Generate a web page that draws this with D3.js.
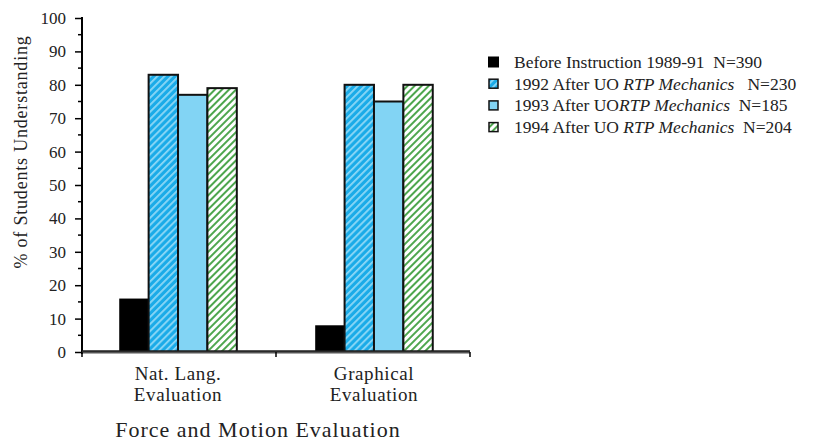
<!DOCTYPE html>
<html><head><meta charset="utf-8">
<script src="https://cdn.jsdelivr.net/npm/d3@7"></script>
<style>body{margin:0;background:#fff}svg{display:block}text{font-family:"Liberation Serif","Times New Roman",serif;fill:#222}</style>
</head><body><svg id="c" width="837" height="442"></svg>
<script>
const categories = ["Nat. Lang.|Evaluation", "Graphical|Evaluation"];
const seriesNames = ["Before Instruction 1989-91  N=390", "1992 After UO |RTP Mechanics|   N=230", "1993 After UO|RTP Mechanics|  N=185", "1994 After UO |RTP Mechanics|  N=204"];
const seriesKeys = ["before", "y1992", "y1993", "y1994"];
const before = [16, 8];
const y1992 = [83, 80];
const y1993 = [77, 75];
const y1994 = [79, 80];
const yTicks = [0,10,20,30,40,50,60,70,80,90,100];
const values = {before, y1992, y1993, y1994};

const svg = d3.select("#c");
const defs = svg.append("defs");
// blue hatch
const pb = defs.append("pattern").attr("id","hatchBlue").attr("patternUnits","userSpaceOnUse").attr("width",5).attr("height",5).attr("patternTransform","rotate(45)");
pb.append("rect").attr("width",5).attr("height",5).attr("fill","#1aabe8");
pb.append("rect").attr("x",0).attr("width",1.8).attr("height",5).attr("fill","#8ed8f6");
const pg = defs.append("pattern").attr("id","hatchGreen").attr("patternUnits","userSpaceOnUse").attr("width",5).attr("height",5).attr("patternTransform","rotate(45)");
pg.append("rect").attr("width",5).attr("height",5).attr("fill","#ffffff");
pg.append("rect").attr("x",0).attr("width",2).attr("height",5).attr("fill","#4ea64e");
const fills = {before:"#000", y1992:"url(#hatchBlue)", y1993:"#82d4f4", y1994:"url(#hatchGreen)"};

const x0 = d3.scaleBand().domain(categories).range([82,470]).paddingInner(0.4).paddingOuter(0.19);
const x1 = d3.scaleBand().domain(seriesKeys).range([0, x0.bandwidth()]);
const y = d3.scaleLinear().domain([0,100]).range([352,18]);

// y axis
const yAxis = d3.axisLeft(y).tickValues(yTicks).tickSize(7).tickFormat(d3.format("d"));
const gy = svg.append("g").attr("transform","translate(82,0)").call(yAxis);
gy.select(".domain").attr("stroke","#000").attr("stroke-width",2).attr("d","M0,17V354");
gy.selectAll(".tick line").attr("stroke","#000").attr("stroke-width",1.5);
gy.selectAll(".tick text").attr("x",-16).style("font-size","17px").style("font-family","Liberation Serif").attr("fill","#222");
// minor ticks
svg.append("g").selectAll("line").data(d3.range(5,100,10)).join("line")
  .attr("x1",78).attr("x2",82).attr("y1",d=>y(d)).attr("y2",d=>y(d)).attr("stroke","#000").attr("stroke-width",1.5);

// bars
const groups = svg.append("g").selectAll("g").data(categories).join("g")
  .attr("transform",d=>`translate(${x0(d)},0)`);
groups.selectAll("rect").data((d,i)=>seriesKeys.map(k=>({k, v:values[k][i]}))).join("rect")
  .attr("x",d=>x1(d.k)).attr("width",x1.bandwidth()).attr("y",d=>y(d.v)).attr("height",d=>y(0)-y(d.v))
  .attr("fill",d=>fills[d.k]).attr("stroke","#111").attr("stroke-width",d=>d.k==="before"?0:2);

// baseline (x axis)
svg.append("line").attr("x1",82).attr("x2",470).attr("y1",352).attr("y2",352).attr("stroke","#555").attr("stroke-width",3);
svg.append("line").attr("x1",82).attr("x2",470).attr("y1",351).attr("y2",351).attr("stroke","#000").attr("stroke-width",1.2);
svg.append("g").selectAll("line").data([82,276,470]).join("line")
  .attr("x1",d=>d).attr("x2",d=>d).attr("y1",352).attr("y2",357).attr("stroke","#000").attr("stroke-width",1.5);

// category labels
svg.append("g").selectAll("text").data(categories).join("text")
  .attr("x",d=>x0(d)+x0.bandwidth()/2).attr("y",380).attr("text-anchor","middle").style("font-size","19px").style("letter-spacing","0.6px")
  .each(function(d){
    const parts=d.split("|");
    d3.select(this).selectAll("tspan").data(parts).join("tspan").attr("x",x0(d)+x0.bandwidth()/2).attr("dy",(p,i)=>i?21:0).text(p=>p);
  });

svg.append("text").attr("x",258).attr("y",437).attr("text-anchor","middle").style("font-size","22px").style("letter-spacing","1px").text("Force and Motion Evaluation");
svg.append("text").attr("transform","translate(27,152) rotate(-90)").attr("text-anchor","middle").style("font-size","18px").style("letter-spacing","0.8px").text("% of Students Understanding");

// legend
const lg = svg.append("g").selectAll("g").data(seriesKeys).join("g")
  .attr("transform",(d,i)=>`translate(488,${62+i*21.7})`);
lg.append("rect").attr("x",d=>d==="before"?0:1).attr("y",d=>d==="before"?-5.5:-4.5)
  .attr("width",d=>d==="before"?11:9).attr("height",d=>d==="before"?11:9)
  .attr("fill",d=>fills[d]).attr("stroke","#111").attr("stroke-width",d=>d==="before"?0:1.5);
lg.append("text").attr("x",26).attr("y",6).style("font-size","17.5px")
  .each(function(d,i){
    const parts=seriesNames[i].split("|");
    d3.select(this).selectAll("tspan").data(parts).join("tspan")
      .style("font-style",(p,j)=>j===1?"italic":"normal").style("white-space","pre").text(p=>p);
  });
</script></body></html>
